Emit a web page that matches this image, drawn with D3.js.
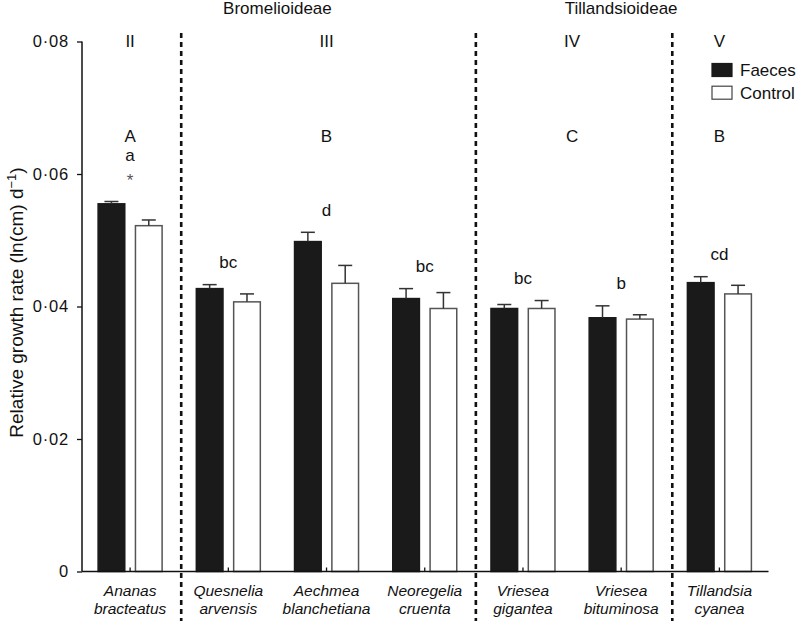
<!DOCTYPE html>
<html>
<head>
<meta charset="utf-8">
<script src="https://cdn.jsdelivr.net/npm/d3@7"></script>
<style>
  html, body { margin: 0; padding: 0; background: #fff; }
  svg { display: block; font-family: "Liberation Sans", Arial, Helvetica, sans-serif; }
</style>
</head>
<body>
<svg id="chart" width="798" height="621"></svg>
<script>
// ---------- data ----------
const genus   = ["Ananas", "Quesnelia", "Aechmea", "Neoregelia", "Vriesea", "Vriesea", "Tillandsia"];
const epithet = ["bracteatus", "arvensis", "blanchetiana", "cruenta", "gigantea", "bituminosa", "cyanea"];
const faeces     = [0.0555, 0.0427, 0.0498, 0.0412, 0.0397, 0.0383, 0.0436];
const faecesErr  = [0.00035, 0.0006, 0.0014, 0.0015, 0.0006, 0.0018, 0.0009];
const control    = [0.0522, 0.0407, 0.0435, 0.0397, 0.0397, 0.0381, 0.0419];
const controlErr = [0.00086, 0.0012, 0.0027, 0.0024, 0.0012, 0.00065, 0.0013];
const speciesLetters = ["a", "bc", "d", "bc", "bc", "b", "cd"];
const speciesStar    = ["*", "", "", "", "", "", ""];
const sectionNumerals = ["II", "III", "IV", "V"];
const sectionLetters  = ["A", "B", "C", "B"];
const sectionStart    = [0, 1, 4, 6];
const sectionEnd      = [0, 3, 5, 6];
const subfamilies     = ["Bromelioideae", "Tillandsioideae"];
const subfamilyStart  = [0, 4];
const subfamilyEnd    = [3, 6];
const yTicks = [0, 0.02, 0.04, 0.06, 0.08];
const seriesNames = ["Faeces", "Control"];

// ---------- layout ----------
const svg = d3.select("#chart");
const mLeft = 81, mRight = 768.5, mTop = 41.5, mBottom = 571.5;
const FS = 17;

const x = d3.scaleBand().domain(d3.range(genus.length)).range([mLeft, mRight]).padding(0);
const xInner = d3.scaleBand().domain(seriesNames).range([-32, 32]).paddingInner(0.286);
const y = d3.scaleLinear().domain([0, 0.08]).range([mBottom, mTop]);
const cx = i => x(i) + x.bandwidth() / 2;

const rows = genus.map((g, i) => ({
  i,
  vals: [
    { s: "Faeces", v: faeces[i], e: faecesErr[i] },
    { s: "Control", v: control[i], e: controlErr[i] }
  ]
}));

// ---------- dotted section separators ----------
const sepAfter = sectionEnd.slice(0, -1);
svg.append("g").selectAll("line").data(sepAfter).join("line")
  .attr("x1", d => x(d) + x.bandwidth() + 2)
  .attr("x2", d => x(d) + x.bandwidth() + 2)
  .attr("y1", 33).attr("y2", 621)
  .attr("stroke", "#111").attr("stroke-width", 2.6)
  .attr("stroke-dasharray", "5,4");

// ---------- bars ----------
const gBars = svg.append("g");
const grp = gBars.selectAll("g.grp").data(rows).join("g").attr("class", "grp")
  .attr("transform", d => `translate(${cx(d.i)},0)`);

grp.selectAll("rect").data(d => d.vals).join("rect")
  .attr("x", d => xInner(d.s))
  .attr("width", xInner.bandwidth())
  .attr("y", d => y(d.v))
  .attr("height", d => y(0) - y(d.v))
  .attr("fill", d => d.s === "Faeces" ? "#1a1a1a" : "#ffffff")
  .attr("stroke", d => d.s === "Faeces" ? "#1a1a1a" : "#555")
  .attr("stroke-width", 1.5);

// error bars (upper only)
grp.selectAll("line.err").data(d => d.vals).join("line").attr("class", "err")
  .attr("x1", d => xInner(d.s) + xInner.bandwidth() / 2)
  .attr("x2", d => xInner(d.s) + xInner.bandwidth() / 2)
  .attr("y1", d => y(d.v)).attr("y2", d => y(d.v + d.e))
  .attr("stroke", "#333").attr("stroke-width", 1.5);
grp.selectAll("line.cap").data(d => d.vals).join("line").attr("class", "cap")
  .attr("x1", d => xInner(d.s) + xInner.bandwidth() / 2 - 7)
  .attr("x2", d => xInner(d.s) + xInner.bandwidth() / 2 + 7)
  .attr("y1", d => y(d.v + d.e)).attr("y2", d => y(d.v + d.e))
  .attr("stroke", "#333").attr("stroke-width", 1.5);

// ---------- axes ----------
const yAxis = d3.axisLeft(y).tickValues(yTicks).tickSize(5).tickPadding(8)
  .tickFormat(d => d === 0 ? "0" : d3.format(".2f")(d).replace(".", "\u00B7"));
const ya = svg.append("g").attr("transform", `translate(${mLeft + 1},0)`).call(yAxis);
ya.select(".domain").attr("d", `M0,${mTop}V${mBottom}`).attr("stroke", "#111").attr("stroke-width", 1.5);
ya.selectAll(".tick line").attr("stroke", "#111").attr("stroke-width", 1.3);
ya.selectAll(".tick text").attr("font-size", 16.5).attr("fill", "#111").attr("letter-spacing", 0.8)
  .attr("font-family", "Liberation Sans, Arial, sans-serif");

const xAxis = d3.axisBottom(x).tickSize(-4).tickFormat("");
const xa = svg.append("g").attr("transform", `translate(0,${mBottom})`).call(xAxis);
xa.select(".domain").attr("d", `M${mLeft + 1},0H${mRight}`).attr("stroke", "#111").attr("stroke-width", 1.5);
xa.selectAll(".tick line").attr("stroke", "#111").attr("stroke-width", 1.3);

// x labels (italic, two lines as separate texts)
const xlg = svg.append("g").attr("font-size", 15.5).attr("font-style", "italic").attr("fill", "#111")
  .attr("text-anchor", "middle");
xlg.selectAll("text.l1").data(genus).join("text").attr("class", "l1")
  .attr("x", (d, i) => cx(i)).attr("y", 595.5).text(d => d);
xlg.selectAll("text.l2").data(epithet).join("text").attr("class", "l2")
  .attr("x", (d, i) => cx(i)).attr("y", 613.5).text(d => d);

// y title
svg.append("text")
  .attr("transform", `translate(23,${(mTop + mBottom) / 2 - 4}) rotate(-90)`)
  .attr("text-anchor", "middle").attr("font-size", 19).attr("fill", "#111")
  .call(t => {
    t.append("tspan").text("Relative growth rate (ln(cm) d");
    t.append("tspan").attr("dy", -7).attr("font-size", 13).text("\u22121");
    t.append("tspan").attr("dy", 7).text(")");
  });

// ---------- annotations ----------
const secCenter = k => (cx(sectionStart[k]) + cx(sectionEnd[k])) / 2;
svg.append("g").selectAll("text").data(sectionNumerals).join("text")
  .attr("x", (d, k) => secCenter(k)).attr("y", 46.7)
  .attr("text-anchor", "middle").attr("font-size", FS).attr("fill", "#111").text(d => d);
svg.append("g").selectAll("text").data(sectionLetters).join("text")
  .attr("x", (d, k) => secCenter(k)).attr("y", 141.7)
  .attr("text-anchor", "middle").attr("font-size", FS).attr("fill", "#111").text(d => d);

const subCenter = k => (cx(subfamilyStart[k]) + cx(subfamilyEnd[k])) / 2;
svg.append("g").selectAll("text").data(subfamilies).join("text")
  .attr("x", (d, k) => subCenter(k)).attr("y", 13.5)
  .attr("text-anchor", "middle").attr("font-size", FS).attr("fill", "#111").text(d => d);

// species letters above highest error bar
const topOf = i => Math.min(y(faeces[i] + faecesErr[i]), y(control[i] + controlErr[i]));
svg.append("g").selectAll("text").data(speciesLetters).join("text")
  .attr("x", (d, i) => cx(i))
  .attr("y", (d, i) => speciesStar[i] ? topOf(i) - 40.5 : topOf(i) - 16.5)
  .attr("text-anchor", "middle").attr("font-size", FS).attr("fill", "#111").text(d => d);
svg.append("g").selectAll("text").data(speciesStar).join("text")
  .attr("x", (d, i) => cx(i))
  .attr("y", (d, i) => topOf(i) - 15)
  .attr("text-anchor", "middle").attr("font-size", 17).attr("fill", "#555").text(d => d);

// ---------- legend ----------
const lg = svg.append("g").attr("transform", "translate(712,63.5)");
lg.selectAll("rect").data(seriesNames).join("rect")
  .attr("x", 0).attr("y", (d, i) => i * 22.7)
  .attr("width", 20).attr("height", 13)
  .attr("fill", d => d === "Faeces" ? "#1a1a1a" : "#fff")
  .attr("stroke", d => d === "Faeces" ? "#1a1a1a" : "#444").attr("stroke-width", 1.2);
lg.selectAll("text").data(seriesNames).join("text")
  .attr("x", 28).attr("y", (d, i) => 12.8 + i * 22.2)
  .attr("font-size", FS).attr("fill", "#111").text(d => d);
</script>
</body>
</html>
